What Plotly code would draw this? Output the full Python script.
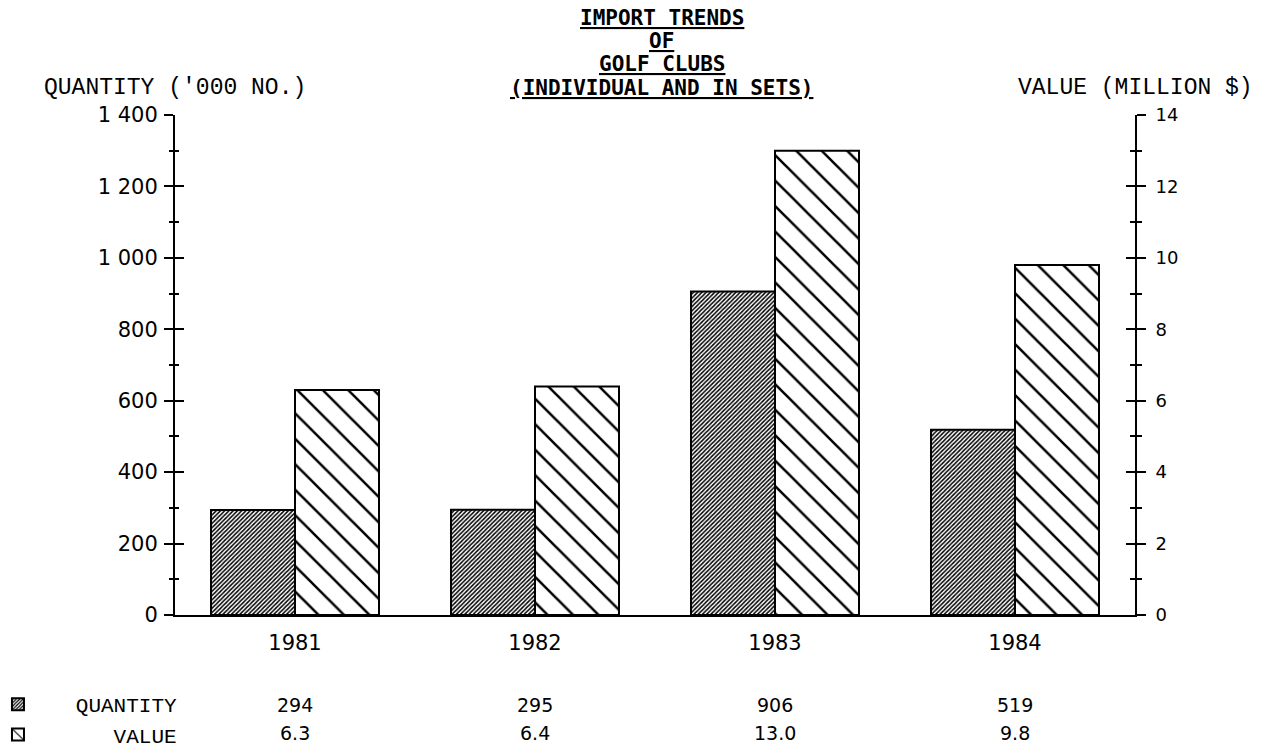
import plotly.graph_objects as go

# ---- data ----
YEARS = ["1981", "1982", "1983", "1984"]
QUANTITY = [294, 295, 906, 519]          # '000 no.
VALUE = [6.3, 6.4, 13.0, 9.8]            # million $
Q_TICKS = [0, 200, 400, 600, 800, 1000, 1200, 1400]
Q_TICKTEXT = ["0", "200", "400", "600", "800", "1 000", "1 200", "1 400"]
V_TICKS = [0, 2, 4, 6, 8, 10, 12, 14]
V_TICKTEXT = ["0", "2", "4", "6", "8", "10", "12", "14"]
TITLE_LINES = ["IMPORT TRENDS", "OF", "GOLF CLUBS", "(INDIVIDUAL AND IN SETS)"]
Q_LABEL = "QUANTITY"
V_LABEL = "VALUE"
Q_AXIS_TITLE = "QUANTITY ('000 NO.)"
V_AXIS_TITLE = "VALUE (MILLION $)"

NUM_FONT = "DejaVu Sans"
TYPE_FONT = "Liberation Mono"
TITLE_FONT = "DejaVu Sans Mono"

fig = go.Figure()

fig.add_trace(go.Bar(
    x=YEARS, y=QUANTITY, yaxis="y", name="&nbsp;&nbsp;&nbsp;" + Q_LABEL,
    offset=-0.35, width=0.35, opacity=1,
    marker=dict(color="white", opacity=1, line=dict(color="black", width=2),
                pattern=dict(shape="/", size=3, solidity=0.5, fillmode="replace",
                             fgcolor="black", bgcolor="white", fgopacity=1)),
))
fig.add_trace(go.Bar(
    x=YEARS, y=VALUE, yaxis="y2",
    name="&nbsp;" * (3 + len(Q_LABEL) - len(V_LABEL)) + V_LABEL,
    offset=0, width=0.35, opacity=1,
    marker=dict(color="white", opacity=1, line=dict(color="black", width=2),
                pattern=dict(shape="\\", size=18, solidity=0.14, fillmode="replace",
                             fgcolor="black", bgcolor="white", fgopacity=1)),
))
# empty traces so the tick-crossing overlay axes are drawn
fig.add_trace(go.Scatter(x=[], y=[], yaxis="y3", showlegend=False, hoverinfo="skip"))
fig.add_trace(go.Scatter(x=[], y=[], yaxis="y4", showlegend=False, hoverinfo="skip"))

tick_common = dict(tickcolor="black", tickwidth=2, showgrid=False, zeroline=False)

fig.update_layout(
    width=1273, height=755,
    paper_bgcolor="white", plot_bgcolor="white",
    margin=dict(l=175, r=138, t=115, b=140, autoexpand=False),
    barmode="group",
    xaxis=dict(type="category", range=[-0.5, 3.5], showline=True,
               linecolor="black", linewidth=2, ticks="", showgrid=False,
               zeroline=False, ticklabelstandoff=8,
               tickfont=dict(family=NUM_FONT, size=21, color="black")),
    yaxis=dict(range=[0, 1400], tickvals=Q_TICKS, ticktext=Q_TICKTEXT,
               ticks="outside", ticklen=9, showline=True, linecolor="black",
               linewidth=2, ticklabelstandoff=2,
               tickfont=dict(family=NUM_FONT, size=21, color="black"),
               minor=dict(ticks="outside", ticklen=4, dtick=100, tick0=0,
                          tickcolor="black", tickwidth=2, showgrid=False),
               **tick_common),
    yaxis3=dict(overlaying="y", anchor="x", side="left", range=[0, 1400],
                tickvals=Q_TICKS, ticks="inside", ticklen=9,
                showticklabels=False, showline=False,
                minor=dict(ticks="inside", ticklen=4, dtick=100, tick0=0,
                           tickcolor="black", tickwidth=2, showgrid=False),
                **tick_common),
    yaxis2=dict(overlaying="y", anchor="x", side="right", range=[0, 14],
                tickvals=V_TICKS, ticktext=V_TICKTEXT, ticks="outside",
                ticklen=9, showline=True, linecolor="black", linewidth=2,
                ticklabelstandoff=6,
                tickfont=dict(family=NUM_FONT, size=18, color="black"),
                minor=dict(ticks="outside", ticklen=5, dtick=1, tick0=0,
                           tickcolor="black", tickwidth=2, showgrid=False),
                **tick_common),
    yaxis4=dict(overlaying="y", anchor="x", side="right", range=[0, 14],
                tickvals=V_TICKS, ticks="inside", ticklen=9,
                showticklabels=False, showline=False,
                minor=dict(ticks="inside", ticklen=5, dtick=1, tick0=0,
                           tickcolor="black", tickwidth=2, showgrid=False),
                **tick_common),
    showlegend=True,
    legend=dict(x=-0.1844, y=-0.138, xanchor="left", yanchor="top",
                bgcolor="rgba(0,0,0,0)", borderwidth=0, tracegroupgap=0,
                font=dict(family=TYPE_FONT, size=21, color="black")),
)

annotations = []
# title lines (underlined)
title_y = [1.194, 1.148, 1.102, 1.054]
for line, yy in zip(TITLE_LINES, title_y):
    annotations.append(dict(
        text="<b><u>" + line + "</u></b>", x=0.507, y=yy, xref="paper", yref="paper",
        showarrow=False, xanchor="center", yanchor="middle",
        font=dict(family=TITLE_FONT, size=21, color="black")))
# axis titles
annotations.append(dict(text=Q_AXIS_TITLE, x=0.0, y=1.054, xref="paper", yref="paper",
                        showarrow=False, xanchor="center", yanchor="middle",
                        font=dict(family=TYPE_FONT, size=23, color="black")))
annotations.append(dict(text=V_AXIS_TITLE, x=1.0, y=1.054, xref="paper", yref="paper",
                        showarrow=False, xanchor="center", yanchor="middle",
                        font=dict(family=TYPE_FONT, size=23, color="black")))
# table values under each year (category index positions)
for i, (q, v) in enumerate(zip(QUANTITY, VALUE)):
    annotations.append(dict(text=str(q), x=i, xref="x", y=-0.18, yref="paper",
                            showarrow=False, xanchor="center", yanchor="middle",
                            font=dict(family=NUM_FONT, size=19, color="black")))
    annotations.append(dict(text="%.1f" % v, x=i, xref="x", y=-0.236, yref="paper",
                            showarrow=False, xanchor="center", yanchor="middle",
                            font=dict(family=NUM_FONT, size=19, color="black")))
fig.update_layout(annotations=annotations)

fig.write_html("out.html", config={"displayModeBar": False},
               post_script="document.body.style.margin='0px';")
